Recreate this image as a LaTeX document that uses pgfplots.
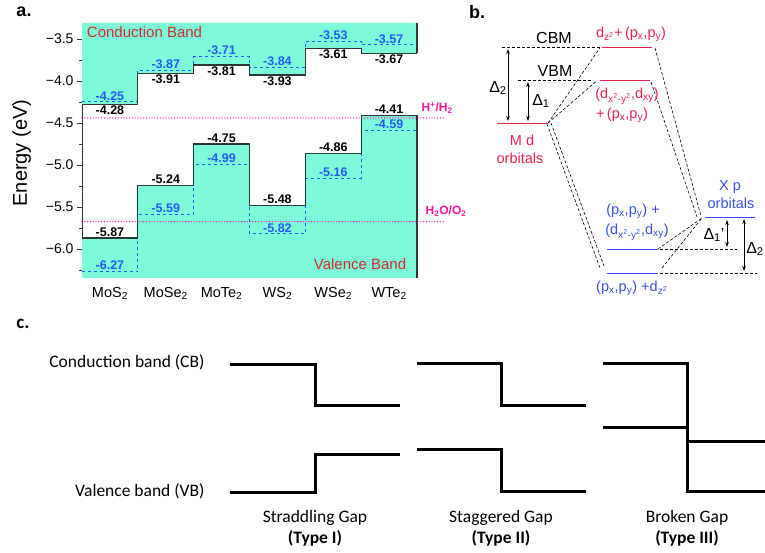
\documentclass[border=0pt]{standalone}
\usepackage{pgfplots}
\pgfplotsset{compat=1.18}
\usepackage{pgfplotstable}
\usetikzlibrary{arrows.meta}
\usepackage{fontspec}
\setmainfont{Liberation Sans}
\newfontfamily\calibri{Carlito}

\definecolor{band}{RGB}{125,250,218}
\definecolor{bandred}{RGB}{205,45,45}
\definecolor{dashblue}{RGB}{35,90,245}
\definecolor{redox}{RGB}{250,20,160}
\definecolor{orbred}{RGB}{235,35,75}
\definecolor{orbblue}{RGB}{55,80,225}
\definecolor{edge}{RGB}{45,55,55}

% Band edges in eV: x is the left edge of each compound's column,
% the last row only closes the final step.
% cbm/vbm: band edges (solid), cbd/vbd: second set of edges (dashed)
\pgfplotstableread{
x  cbm    vbm    cbd    vbd
0  -4.28  -5.87  -4.25  -6.27
1  -3.91  -5.24  -3.87  -5.59
2  -3.81  -4.75  -3.71  -4.99
3  -3.93  -5.48  -3.84  -5.82
4  -3.61  -4.86  -3.53  -5.16
5  -3.67  -4.41  -3.57  -4.59
6  -3.67  -4.41  -3.57  -4.59
}\bandedges

\newcommand{\fs}[1]{\fontsize{#1}{#1}\selectfont}
\newcommand{\sub}[1]{\textsubscript{#1}}
\newcommand{\sups}[1]{\textsuperscript{#1}}

\pgfplotsset{
  edgelabel/.style={draw=none, point meta=y,
    skip coords between index={6}{7},
    nodes near coords={\pgfmathprintnumber[fixed,fixed zerofill,precision=2,assume math mode=true]{\pgfplotspointmeta}},
    nodes near coords style={font=\bfseries\fs{12.5}, text=#1, inner sep=1.5pt}},
  redoxline/.style={redox, line width=1.4pt, line cap=round, dash pattern=on 0pt off 2.8pt},
}

\begin{document}
\begin{tikzpicture}
\path[use as bounding box] (0pt,0pt) rectangle (765pt,552pt);

% ---------------- panel a: band alignment ----------------
\begin{axis}[
  at={(82pt,274pt)}, anchor=south west,
  scale only axis, width=335pt, height=255pt,
  xmin=0, xmax=6, ymin=-6.345, ymax=-3.31,
  clip=false,
  separate axis lines,
  axis y line*=left, axis x line*=bottom,
  x axis line style={draw=none},
  y axis line style={edge, line width=1pt},
  xtick={0.5,1.5,2.5,3.5,4.5,5.5},
  xticklabels={MoS\sub{2},MoSe\sub{2},MoTe\sub{2},WS\sub{2},WSe\sub{2},WTe\sub{2}},
  xtick style={draw=none},
  xticklabel style={font=\fs{14.5}, yshift=-1pt},
  ytick={-6,-5.5,-5,-4.5,-4,-3.5},
  yticklabels={−6.0,−5.5,−5.0,−4.5,−4.0,−3.5},
  minor ytick={-6.25,-5.75,-5.25,-4.75,-4.25,-3.75},
  ytick style={edge, line width=0.8pt},
  tick align=outside,
  major tick length=5pt, minor tick length=3pt,
  yticklabel style={font=\fs{14}},
  ylabel={Energy (eV)},
  ylabel style={font=\fontsize{20}{24}\selectfont, at={(axis description cs:-0.18,0.49)}, anchor=center},
]
% filled bands
\addplot[const plot, fill=band, draw=none] table[x=x, y=cbm]{\bandedges} |- (axis cs:0,-3.31) -- cycle;
\addplot[const plot, fill=band, draw=none] table[x=x, y=vbm]{\bandedges} |- (axis cs:0,-6.345) -- cycle;

% redox potentials
\addplot[redoxline] coordinates {(0,-4.44) (6.47,-4.44)};
\addplot[redoxline] coordinates {(0,-5.675) (6.47,-5.675)};
\node[text=redox, font=\bfseries\fs{12}] at (axis cs:6.36,-4.32) {H\sups{+}/H\sub{2}};
\node[text=redox, font=\bfseries\fs{12}] at (axis cs:6.52,-5.545) {H\sub{2}O/O\sub{2}};

% dashed edges
\addplot[const plot, dashblue, dashed, line width=1pt] table[x=x, y=cbd]{\bandedges};
\addplot[const plot, dashblue, dashed, line width=1pt] table[x=x, y=vbd]{\bandedges};

% solid edges
\addplot[const plot, edge, line width=1.3pt] table[x=x, y=cbm]{\bandedges};
\addplot[const plot, edge, line width=1.3pt] table[x=x, y=vbm]{\bandedges};
\addplot[edge, line width=1.3pt] coordinates {(6,-3.31) (6,-3.67)};
\addplot[edge, line width=1.3pt] coordinates {(6,-4.41) (6,-6.345)};

% value labels
\addplot[edgelabel=black, nodes near coords style={anchor=north}] table[x expr=\thisrow{x}+0.5, y=cbm]{\bandedges};
\addplot[edgelabel=black, nodes near coords style={anchor=south}] table[x expr=\thisrow{x}+0.5, y=vbm]{\bandedges};
\addplot[edgelabel=dashblue, nodes near coords style={anchor=south}] table[x expr=\thisrow{x}+0.5, y=cbd]{\bandedges};
\addplot[edgelabel=dashblue, nodes near coords style={anchor=south}] table[x expr=\thisrow{x}+0.5, y=vbd]{\bandedges};

\node[text=bandred, font=\fs{15}] at (axis cs:1.12,-3.417) {Conduction Band};
\node[text=bandred, font=\fs{15}] at (axis cs:4.98,-6.18) {Valence Band};
\end{axis}

% ---------------- panels b and c: schematic diagrams ----------------
\begin{axis}[
  at={(0pt,0pt)}, anchor=south west,
  scale only axis, width=765pt, height=552pt,
  xmin=0, xmax=765, ymin=0, ymax=552, y dir=reverse,
  hide axis, clip=false,
]
% panel letters
\node[font=\bfseries\fs{18}] at (axis cs:24,12) {a.};
\node[font=\bfseries\fs{18}] at (axis cs:477,12) {b.};
\node[font=\calibri\bfseries\fs{19}] at (axis cs:23,324) {c.};

% b: orbital levels
\addplot[black, densely dashed, line width=0.6pt] coordinates {(502,47.7) (600,47.7)};
\addplot[black, densely dashed, line width=0.6pt] coordinates {(518,80.7) (592,80.7)};
\addplot[orbred, line width=1pt] coordinates {(602,47.7) (652,47.7)};
\addplot[orbred, line width=1pt] coordinates {(600,80.7) (650,80.7)};
\addplot[orbred, line width=1pt] coordinates {(497,123) (548,123)};
\addplot[orbblue, line width=1pt] coordinates {(705,217) (755,217)};
\addplot[orbblue, line width=1pt] coordinates {(607,249) (658,249)};
\addplot[orbblue, line width=1pt] coordinates {(607,273) (658,273)};
\addplot[black, densely dashed, line width=0.6pt] coordinates {(660,249) (737,249)};
\addplot[black, densely dashed, line width=0.6pt] coordinates {(660,273) (757,273)};
% correlation lines
\addplot[black, densely dashed, line width=0.6pt] coordinates {(548,123) (600,47.7)};
\addplot[black, densely dashed, line width=0.6pt] coordinates {(548,123) (596,81.5)};
\addplot[black, densely dashed, line width=0.6pt] coordinates {(547,124) (600,268)};
\addplot[black, densely dashed, line width=0.6pt] coordinates {(551,123) (604,266)};
\addplot[black, densely dashed, line width=0.6pt] coordinates {(655,48) (701,216)};
\addplot[black, densely dashed, line width=0.6pt] coordinates {(651,82) (697,217)};
\addplot[black, densely dashed, line width=0.6pt] coordinates {(658,249) (702,218)};
\addplot[black, densely dashed, line width=0.6pt] coordinates {(662,268) (702,218)};
% splitting arrows
\addplot[black, line width=0.8pt, {Stealth[length=5pt,width=3.5pt]}-{Stealth[length=5pt,width=3.5pt]}] coordinates {(508,49) (508,121)};
\addplot[black, line width=0.8pt, {Stealth[length=5pt,width=3.5pt]}-{Stealth[length=5pt,width=3.5pt]}] coordinates {(528,82) (528,121)};
\addplot[black, line width=0.8pt, {Stealth[length=5pt,width=3.5pt]}-{Stealth[length=5pt,width=3.5pt]}] coordinates {(727,220) (727,247)};
\addplot[black, line width=0.8pt, {Stealth[length=5pt,width=3.5pt]}-{Stealth[length=5pt,width=3.5pt]}] coordinates {(744,219) (744,271)};

\node[font=\fs{16}] at (axis cs:554,38) {CBM};
\node[font=\fs{16}] at (axis cs:555,71) {VBM};
\node[font=\fs{16}] at (axis cs:498,88) {Δ\sub{2}};
\node[font=\fs{16}] at (axis cs:541,101) {Δ\sub{1}};
\node[font=\fs{16}] at (axis cs:714,235) {Δ\sub{1}'};
\node[font=\fs{16}] at (axis cs:755,249) {Δ\sub{2}};

\node[text=orbred, font=\fs{14.5}] at (axis cs:631,34) {d\sub{z\sups{2}}+\,(p\sub{x},p\sub{y})};
\node[text=orbred, font=\fs{14.5}] at (axis cs:627,96) {(d\sub{x\sups{2}-y\sups{2}},d\sub{xy})};
\node[text=orbred, font=\fs{14.5}] at (axis cs:622,115) {+\,(p\sub{x},p\sub{y})};
\node[text=orbred, font=\fs{14.5}] at (axis cs:522,140) {M d};
\node[text=orbred, font=\fs{14.5}] at (axis cs:520,158) {orbitals};
\node[text=orbblue, font=\fs{14.5}] at (axis cs:730,187) {X p};
\node[text=orbblue, font=\fs{14.5}] at (axis cs:731,203) {orbitals};
\node[text=orbblue, font=\fs{14.5}] at (axis cs:633,211) {(p\sub{x},p\sub{y}) +};
\node[text=orbblue, font=\fs{14.5}] at (axis cs:637,232) {(d\sub{x\sups{2}-y\sups{2}},d\sub{xy})};
\node[text=orbblue, font=\fs{14.5}] at (axis cs:632,288) {(p\sub{x},p\sub{y}) +d\sub{z\sups{2}}};

% c: heterojunction band alignment types
\node[anchor=east, font=\calibri\fs{17.5}] at (axis cs:208,362) {Conduction band (CB)};
\node[anchor=east, font=\calibri\fs{17.5}] at (axis cs:208,491) {Valence band (VB)};
\addplot[black, line width=3pt] coordinates {(230,364) (315,364) (315,405) (400,405)};
\addplot[black, line width=3pt] coordinates {(230,492) (315,492) (315,454) (400,454)};
\addplot[black, line width=3pt] coordinates {(417,363) (501,363) (501,405) (586,405)};
\addplot[black, line width=3pt] coordinates {(417,449) (501,449) (501,491) (586,491)};
\addplot[black, line width=3pt] coordinates {(603,363) (687,363) (687,491) (766,491)};
\addplot[black, line width=3pt] coordinates {(603,427) (687,427)};
\addplot[black, line width=3pt] coordinates {(687,441) (766,441)};
\node[font=\calibri\fs{17.5}] at (axis cs:315,518) {Straddling Gap};
\node[font=\calibri\bfseries\fs{17.5}] at (axis cs:315,538) {(Type I)};
\node[font=\calibri\fs{17.5}] at (axis cs:501,518) {Staggered Gap};
\node[font=\calibri\bfseries\fs{17.5}] at (axis cs:501,538) {(Type II)};
\node[font=\calibri\fs{17.5}] at (axis cs:687,518) {Broken Gap};
\node[font=\calibri\bfseries\fs{17.5}] at (axis cs:687,538) {(Type III)};
\end{axis}
\end{tikzpicture}
\end{document}
